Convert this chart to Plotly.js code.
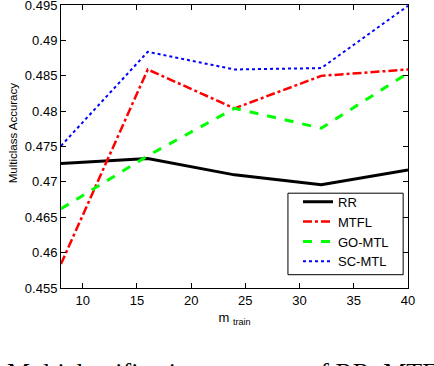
<!DOCTYPE html>
<html>
<head>
<meta charset="utf-8">
<script src="https://cdn.plot.ly/plotly-3.0.1.min.js"></script>
<style>html,body{margin:0;padding:0;background:#fff;}#chart{width:434px;height:366px;}</style>
</head>
<body>
<div id="chart"></div>
<script>
const mTrain = [8, 16, 24, 32, 40];
const rr    = [0.4726, 0.4733, 0.4710, 0.4696, 0.4717];
const mtfl  = [0.4584, 0.4859, 0.4804, 0.4850, 0.4859];
const gomtl = [0.4662, 0.4737, 0.4804, 0.4776, 0.4854];
const scmtl = [0.4751, 0.4884, 0.4859, 0.4861, 0.4949];
const xTicks = [10, 15, 20, 25, 30, 35, 40];
const yTicks = [0.455, 0.46, 0.465, 0.47, 0.475, 0.48, 0.485, 0.49, 0.495];
const yTickText = ['0.455', '0.46', '0.465', '0.47', '0.475', '0.48', '0.485', '0.49', '0.495'];

const fontFam = 'Liberation Sans, Arial, Helvetica, sans-serif';
const traces = [
  {x: mTrain, y: rr, name: 'RR', mode: 'lines', line: {color: '#000000', width: 3, dash: 'solid'}},
  {x: mTrain, y: mtfl, name: 'MTFL', mode: 'lines', line: {color: '#ff0000', width: 2.5, dash: 'dashdot'}},
  {x: mTrain, y: gomtl, name: 'GO-MTL', mode: 'lines', line: {color: '#00ff00', width: 3, dash: 'dash'}},
  {x: mTrain, y: scmtl, name: 'SC-MTL', mode: 'lines', line: {color: '#0000ff', width: 2, dash: 'dot'}}
];
const layout = {
  width: 434, height: 366,
  margin: {l: 60.5, r: 25.7, t: 5, b: 77.7},
  paper_bgcolor: '#ffffff', plot_bgcolor: '#ffffff',
  font: {family: fontFam, size: 13, color: '#000'},
  showlegend: true,
  legend: {x: 0.683, y: 0.358, xanchor: 'left', yanchor: 'top', bgcolor: 'rgba(0,0,0,0)',
           borderwidth: 0, tracegroupgap: 0, font: {size: 13, family: fontFam}},
  xaxis: {range: [8, 40], tickvals: xTicks, ticks: 'inside', ticklen: 5, tickcolor: '#000',
          showline: true, linecolor: '#000', linewidth: 1, mirror: 'ticks', showgrid: false,
          zeroline: false, tickfont: {size: 13}, ticklabeloverflow: 'allow',
          title: {text: 'm <sub>train</sub>', font: {size: 13}, standoff: 6}},
  yaxis: {range: [0.455, 0.49502], tickvals: yTicks, ticktext: yTickText, ticks: 'inside', ticklen: 5,
          tickcolor: '#000', showline: true, linecolor: '#000', linewidth: 1, mirror: 'ticks',
          showgrid: false, zeroline: false, tickfont: {size: 13}, ticklabeloverflow: 'allow'},
  shapes: [{type: 'rect', xref: 'paper', yref: 'paper', layer: 'above',
            x0: 0.654, x1: 0.986, y0: 0.047, y1: 0.335,
            fillcolor: '#ffffff', line: {color: '#000', width: 1}}],
  annotations: [
    {text: 'Multiclass Accuracy', textangle: -90, xref: 'paper', yref: 'paper',
     x: -0.14, y: 0.548, xanchor: 'center', yanchor: 'middle', showarrow: false,
     font: {size: 11.5, family: fontFam, color: '#000'}},
    {text: 'Multiclassification accuracy of RR, MTFL, GO-MTL and SC-MTL',
     xref: 'paper', yref: 'paper', x: -0.16, y: -0.242, xanchor: 'left', yanchor: 'top',
     showarrow: false, font: {family: 'Liberation Serif, Times New Roman, serif', size: 26, color: '#000'}}
  ]
};
Plotly.newPlot('chart', traces, layout, {displayModeBar: false, staticPlot: true});
</script>
</body>
</html>
